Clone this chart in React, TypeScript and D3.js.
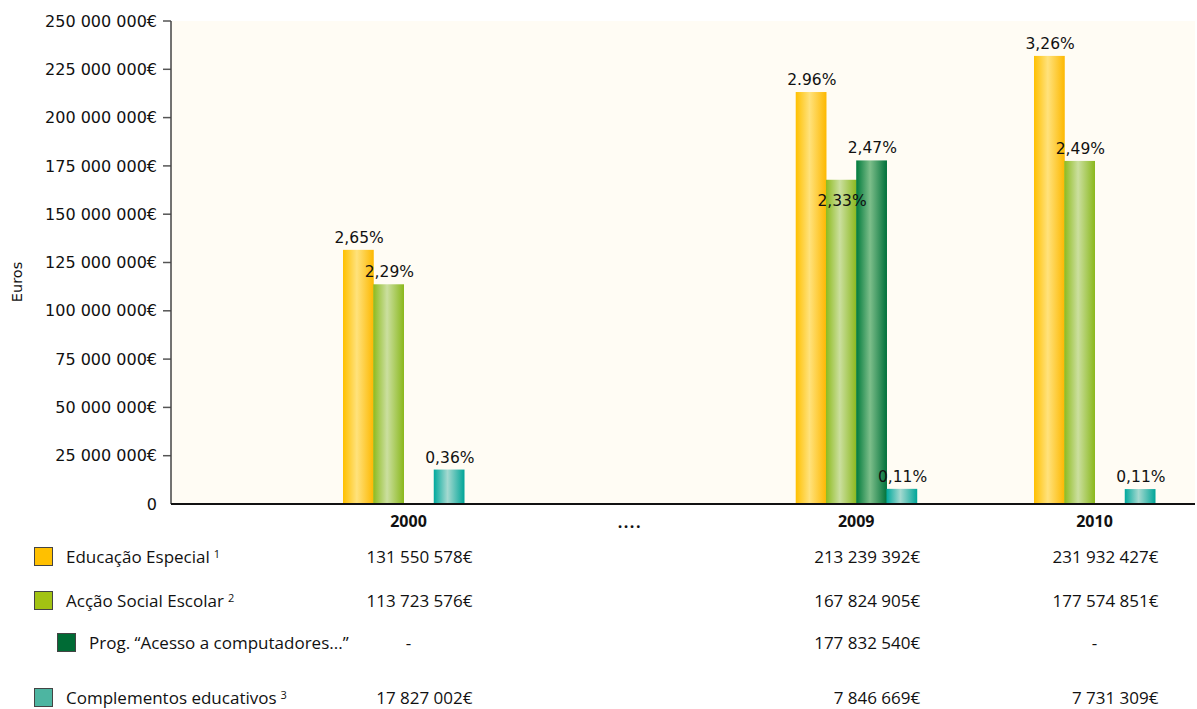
import React from "react";
import * as d3 from "d3";

// ---------- data ----------
const categories = ["2000", "....", "2009", "2010"];
const seriesNames = [
  "Educação Especial",
  "Acção Social Escolar",
  "Prog. “Acesso a computadores...”",
  "Complementos educativos",
];
const seriesNotes = ["1", "2", "", "3"];
const educacaoEspecial = [131550578, null, 213239392, 231932427];
const accaoSocial = [113723576, null, 167824905, 177574851];
const progComputadores = [null, null, 177832540, null];
const complementos = [17827002, null, 7846669, 7731309];
const educacaoPct = ["2,65%", null, "2.96%", "3,26%"];
const accaoPct = ["2,29%", null, "2,33%", "2,49%"];
const progPct = [null, null, "2,47%", null];
const complementosPct = ["0,36%", null, "0,11%", "0,11%"];
const yMax = 250000000;
const yStep = 25000000;

// ---------- layout / style ----------
const W = 1197;
const H = 709;
const plot = { left: 171, right: 1195, top: 21, bottom: 504 };
const slotOf: Record<string, number> = { "2000": 0, "....": 0.95, "2009": 1.9, "2010": 2.9 };
const barColors = [
  ["#FFC000", "#FFE27C", "#FDB800"],
  ["#8DBB1E", "#CBDF9F", "#8AB81C"],
  ["#007A3C", "#7DBE8A", "#00713A"],
  ["#00A99D", "#A5D9D0", "#00A598"],
];
const legendColors = ["#FFC000", "#A2C313", "#006B35", "#4DB5A1"];
const rowY = [557, 601, 643, 698];
const rowIndent = [0, 0, 23, 0];

const allValues = [educacaoEspecial, accaoSocial, progComputadores, complementos];
const allPct = [educacaoPct, accaoPct, progPct, complementosPct];

const locale = d3.formatLocale({
  decimal: ",",
  thousands: " ",
  grouping: [3],
  currency: ["", "€"],
});
const fmt = locale.format(",d");

export default function App() {
  const y = d3.scaleLinear().domain([0, yMax]).range([plot.bottom, plot.top]);
  const xGroup = d3.scaleLinear().domain([0, 2.9]).range([403.5, 1094.5]);
  const x1 = d3
    .scaleBand<number>()
    .domain([0, 1, 2, 3])
    .range([-60.5, 60.5])
    .padding(0);
  const ticks = d3.range(0, yMax + 1, yStep);
  const tickFont = "DejaVu Sans, Verdana, sans-serif";
  const tableFont = "Open Sans, Lato, sans-serif";

  return (
    <div style={{ position: "absolute", left: 0, top: 0 }}>
      <svg width={W} height={H} style={{ display: "block" }}>
        <defs>
          {barColors.map((c, i) => (
            <linearGradient key={i} id={`g${i}`} x1="0" x2="1" y1="0" y2="0">
              <stop offset="0" stopColor={c[0]} />
              <stop offset="0.45" stopColor={c[1]} />
              <stop offset="1" stopColor={c[2]} />
            </linearGradient>
          ))}
        </defs>
        <rect x={0} y={0} width={W} height={H} fill="#ffffff" />
        <rect
          x={plot.left}
          y={plot.top}
          width={plot.right - plot.left}
          height={plot.bottom - plot.top}
          fill="#FFFCF4"
        />

        {/* y axis */}
        {ticks.map((t) => (
          <g key={t}>
            {t > 0 && (
              <line x1={163} x2={plot.left} y1={y(t)} y2={y(t)} stroke="#555" strokeWidth={1.5} />
            )}
            <text
              x={157}
              y={y(t)}
              dy="0.35em"
              textAnchor="end"
              style={{ fontFamily: tickFont }}
              fontSize={16}
              fill="#111"
            >
              {t === 0 ? "0" : fmt(t) + "€"}
            </text>
          </g>
        ))}
        <line x1={plot.left} x2={plot.left} y1={plot.top} y2={plot.bottom} stroke="#444" strokeWidth={1.5} />
        <text
          transform={`translate(22,${282}) rotate(-90)`}
          textAnchor="middle"
          style={{ fontFamily: tickFont }}
          fontSize={14.5}
          fill="#111"
        >
          Euros
        </text>

        {/* bars */}
        {categories.map((cat, ci) => {
          const cx = xGroup(slotOf[cat]);
          return (
            <g key={cat}>
              {allValues.map((vals, si) => {
                const v = vals[ci];
                if (v == null) return null;
                const bx = cx + (x1(si) as number);
                return (
                  <rect
                    key={si}
                    x={bx}
                    y={y(v)}
                    width={x1.bandwidth() + 0.5}
                    height={plot.bottom - y(v)}
                    fill={`url(#g${si})`}
                  />
                );
              })}
            </g>
          );
        })}
        {/* percentage labels */}
        {categories.map((cat, ci) => {
          const cx = xGroup(slotOf[cat]);
          return (
            <g key={cat + "l"}>
              {allPct.map((p, si) => {
                const lab = p[ci];
                const v = allValues[si][ci];
                if (lab == null || v == null) return null;
                const bx = cx + (x1(si) as number) + x1.bandwidth() / 2;
                // the 2009 social label sits inside its bar in the reference
                const below = cat === "2009" && si === 1;
                return (
                  <text
                    key={si}
                    x={bx + 1}
                    y={below ? y(v) + 26 : y(v) - 7}
                    textAnchor="middle"
                    style={{ fontFamily: tickFont }}
                    fontSize={15.5}
                    fill="#111"
                  >
                    {lab}
                  </text>
                );
              })}
            </g>
          );
        })}

        <line x1={plot.left} x2={plot.right} y1={plot.bottom} y2={plot.bottom} stroke="#111" strokeWidth={2} />

        {/* category labels */}
        {categories.map((cat) => (
          <text
            key={cat + "c"}
            x={xGroup(slotOf[cat]) + (cat === "2000" ? 5 : 0)}
            y={cat === "...." ? 522 : 521}
            dy="0.35em"
            textAnchor="middle"
            style={{ fontFamily: tableFont }}
            fontWeight="bold"
            fontSize={16}
            letterSpacing={cat === "...." ? 1.5 : 0}
            fill="#111"
          >
            {cat}
          </text>
        ))}

        {/* legend table */}
        {seriesNames.map((name, si) => (
          <g key={name}>
            <rect
              x={34.5 + rowIndent[si]}
              y={rowY[si] - 9.5}
              width={18}
              height={18}
              fill={legendColors[si]}
              stroke="#444"
              strokeWidth={1}
            />
            <text
              x={66 + rowIndent[si]}
              y={rowY[si]}
              dy="0.35em"
              style={{ fontFamily: tableFont }}
              fontSize={17}
              fill="#111"
            >
              {name}
              {seriesNotes[si] ? (
                <tspan dx={4} dy="-0.45em" fontSize={11}>
                  {seriesNotes[si]}
                </tspan>
              ) : null}
            </text>
            {categories.map((cat, ci) => {
              if (cat === "....") return null;
              const cx = xGroup(slotOf[cat]) + (cat === "2000" ? 5 : 0);
              const v = allValues[si][ci];
              return (
                <text
                  key={cat}
                  x={v == null ? cx : cx + 64}
                  y={rowY[si]}
                  dy="0.35em"
                  textAnchor={v == null ? "middle" : "end"}
                  style={{ fontFamily: tableFont }}
                  fontSize={17}
                  fill="#111"
                >
                  {v == null ? "-" : fmt(v) + "€"}
                </text>
              );
            })}
          </g>
        ))}
      </svg>
    </div>
  );
}
